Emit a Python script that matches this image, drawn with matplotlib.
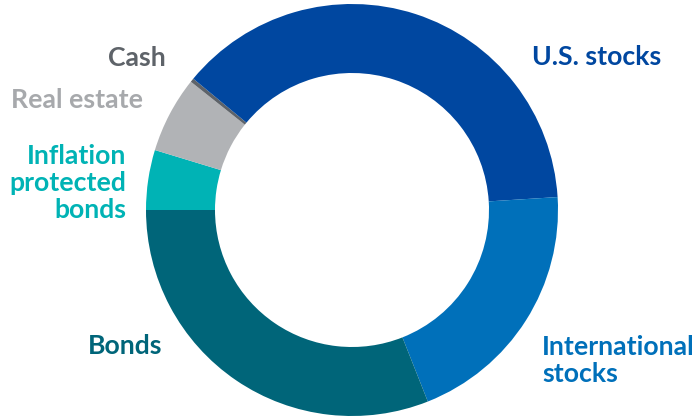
import matplotlib.pyplot as plt

# Asignación de la cartera (%), en el sentido de las agujas del reloj desde la izquierda
categorias = ['Inflation protected bonds', 'Real estate', 'Cash',
              'U.S. stocks', 'International stocks', 'Bonds']
valores = [4.7, 6.0, 0.3, 38.0, 20.0, 31.0]
colores = ['#00B3B5', '#B1B3B6', '#5E6369', '#0047A0', '#0070BA', '#006579']

plt.rcParams['font.family'] = ['Lato', 'DejaVu Sans']

fig = plt.figure(figsize=(6.98, 4.18), dpi=100)
ax = fig.add_axes([0, 0, 1, 1])

ax.pie(valores, colors=colores, startangle=180, counterclock=False,
       center=(352, 208), radius=206,
       wedgeprops=dict(width=69, linewidth=0))

# pie() cambia los límites, así que se fijan después
ax.set_xlim(0, 698)
ax.set_ylim(0, 418)
ax.set_aspect('equal')
ax.axis('off')

# Etiquetas de cada segmento (va='baseline' usa la última línea)
estilo = dict(fontsize=19.2, fontweight='bold', va='baseline', linespacing=1.15)
ax.text(166, 352, 'Cash', color='#5E6369', ha='right', **estilo)
ax.text(143, 310, 'Real estate', color='#A7A9AC', ha='right', **estilo)
ax.text(126, 200, 'Inflation\nprotected\nbonds', color='#00B3B5', ha='right',
        multialignment='right', **estilo)
ax.text(88, 64, 'Bonds', color='#006579', ha='left', **estilo)
ax.text(532, 353, 'U.S. stocks', color='#0047A0', ha='left', **estilo)
ax.text(542, 36, 'International\nstocks', color='#0070BA', ha='left',
        multialignment='left', **estilo)

plt.savefig('out.png', dpi=100)
